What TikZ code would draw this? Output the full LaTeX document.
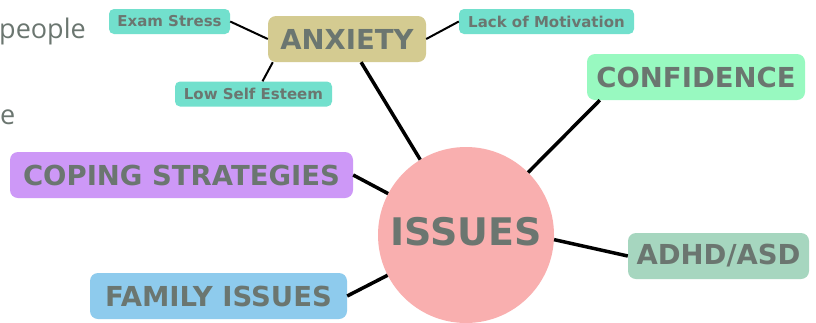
\documentclass[tikz,border=0pt]{standalone}
\usepackage{fontspec}
\newfontfamily\mapfont{DejaVu Sans}
\newfontfamily\notefont{Open Sans}
\definecolor{txtgray}{HTML}{6B7670}
\definecolor{issuepink}{HTML}{F9AFAF}
\definecolor{anxkhaki}{HTML}{D4CB91}
\definecolor{leafteal}{HTML}{72E0CD}
\definecolor{confgreen}{HTML}{98F9C0}
\definecolor{copepurple}{HTML}{CD98F7}
\definecolor{famblue}{HTML}{8ECBED}
\definecolor{adhdgreen}{HTML}{A6D6BF}

\begin{document}
\begin{tikzpicture}[x=1pt, y=-1pt,
  topic/.style={rectangle, rounded corners=8pt, inner sep=0pt, minimum height=46pt,
                text=txtgray, font=\mapfont\bfseries\fontsize{27.5}{27.5}\selectfont},
  leaf/.style={rectangle, fill=leafteal, rounded corners=5pt, inner sep=0pt,
               minimum height=25pt, text=txtgray,
               font=\mapfont\bfseries\fontsize{15}{15}\selectfont},
  link/.style={line width=3.5pt},
  twig/.style={line width=2pt}]
  \useasboundingbox[fill=white] (0,0) rectangle (816,322);

  % leftover text at the left edge
  \node (note1) [anchor=base west, inner sep=0pt, text=txtgray,
                 font=\notefont\fontsize{27}{27}\selectfont] at (-1,38) {people};
  \node (note2) [anchor=base west, inner sep=0pt, text=txtgray,
                 font=\notefont\fontsize{27}{27}\selectfont] at (0,124) {e};

  \node (iss) [circle, fill=issuepink, minimum size=176pt, inner sep=0pt, text=txtgray,
               font=\mapfont\bfseries\fontsize{38}{38}\selectfont] at (466,235) {};
  \node (isslbl) [inner sep=0pt, text=txtgray,
                  font=\mapfont\bfseries\fontsize{38}{38}\selectfont] at (466,232) {ISSUES};

  \node (anx)  [topic, fill=anxkhaki,   minimum width=158pt] at (347,39)    {ANXIETY};
  \node (conf) [topic, fill=confgreen,  minimum width=218pt] at (696,77)    {CONFIDENCE};
  \node (cope) [topic, fill=copepurple, minimum width=343pt] at (181.5,175) {COPING STRATEGIES};
  \node (fam)  [topic, fill=famblue,    minimum width=257pt] at (218.5,296) {FAMILY ISSUES};
  \node (adhd) [topic, fill=adhdgreen,  minimum width=181pt] at (718.5,256) {ADHD/ASD};

  \node (exam) [leaf, minimum width=121pt] at (169.5,21.5) {Exam Stress};
  \node (lack) [leaf, minimum width=175pt] at (546.5,21.5) {Lack of Motivation};
  \node (low)  [leaf, minimum width=157pt] at (253.5,94)   {Low Self Esteem};

  \draw[link] (anx)  -- (iss);
  \draw[link] ([xshift=13pt]conf.south west) -- (iss);
  \draw[link] (cope.east) -- (iss);
  \draw[link] (fam.east)  -- (iss);
  \draw[link] (adhd.west) -- (iss.-3);

  \draw[twig] (exam.east) -- (anx.west);
  \draw[twig] (lack.west) -- (anx.east);
  \draw[twig] ([xshift=9pt]low.north) -- ([xshift=5pt]anx.south west);
\end{tikzpicture}
\end{document}
